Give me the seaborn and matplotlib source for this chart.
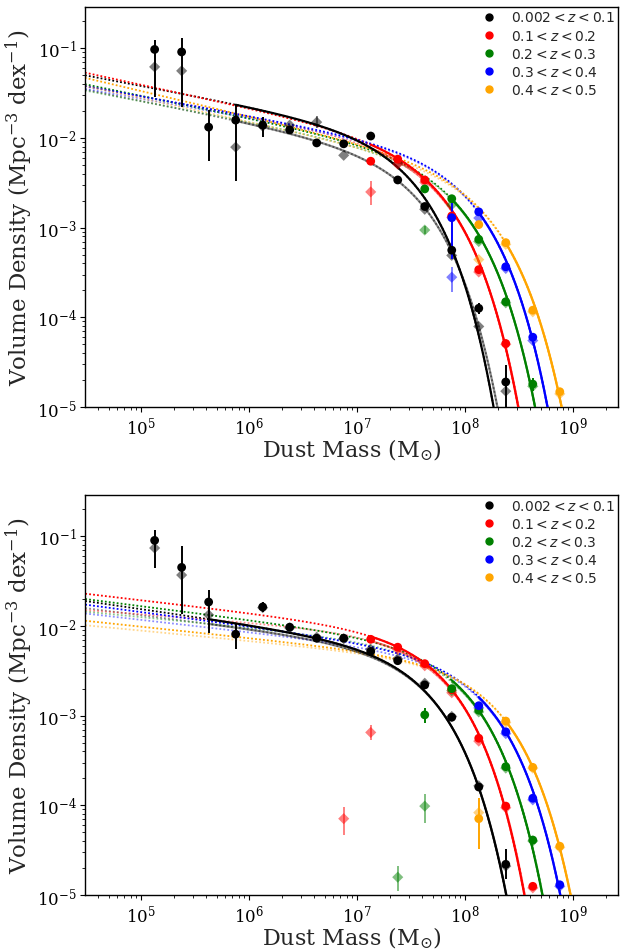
import numpy as np
import matplotlib
matplotlib.use("Agg")
import matplotlib.pyplot as plt
from matplotlib.lines import Line2D
from matplotlib.font_manager import FontProperties
import seaborn as sns

nan = np.nan

# ---------------- data ----------------
BIN_LABELS = [r"$0.002 < z < 0.1$", r"$0.1 < z < 0.2$", r"$0.2 < z < 0.3$",
              r"$0.3 < z < 0.4$", r"$0.4 < z < 0.5$"]
BIN_COLORS = ["black", "red", "green", "blue", "orange"]
LOGM = [5.125, 5.375, 5.625, 5.875, 6.125, 6.375, 6.625, 6.875,
        7.125, 7.375, 7.625, 7.875, 8.125, 8.375, 8.625, 8.875]

# top panel, circles
top_circ_z1 = [0.097, 0.091, 0.0132, 0.0158, 0.0139, 0.0123, 0.0088, 0.0086, 0.0105, 0.0034, 0.00172, 0.00056, 1.26e-4, 1.9e-5, nan, nan]
top_circ_z2 = [nan, nan, nan, nan, nan, nan, nan, nan, 0.0055, 0.0058, 0.0034, 0.00135, 0.00034, 5.1e-5, nan, nan]
top_circ_z3 = [nan, nan, nan, nan, nan, nan, nan, nan, nan, nan, 0.0027, 0.0021, 0.00074, 1.49e-4, 1.8e-5, nan]
top_circ_z4 = [nan, nan, nan, nan, nan, nan, nan, nan, nan, nan, nan, 0.00129, 0.0015, 3.66e-4, 6.0e-5, nan]
top_circ_z5 = [nan, nan, nan, nan, nan, nan, nan, nan, nan, nan, nan, nan, 0.00108, 6.8e-4, 1.2e-4, 1.48e-5]
# top panel, diamonds
top_diam_z1 = [0.062, 0.056, nan, 0.0079, 0.0135, 0.0139, 0.015, 0.0064, nan, 0.0052, 0.0016, 0.00049, 7.9e-5, 1.5e-5, nan, nan]
top_diam_z2 = [nan, nan, nan, nan, nan, nan, nan, nan, 0.0025, 0.0051, 0.0032, 0.0013, 0.00032, 5.0e-5, nan, nan]
top_diam_z3 = [nan, nan, nan, nan, nan, nan, nan, nan, nan, nan, 0.00094, 0.0018, 0.0007, 1.45e-4, 1.7e-5, nan]
top_diam_z4 = [nan, nan, nan, nan, nan, nan, nan, nan, nan, nan, nan, 2.8e-4, 0.00128, 3.5e-4, 5.5e-5, nan]
top_diam_z5 = [nan, nan, nan, nan, nan, nan, nan, nan, nan, nan, nan, nan, 4.4e-4, 6.5e-4, 1.15e-4, 1.4e-5]

# bottom panel, circles
bot_circ_z1 = [0.09, 0.045, 0.0185, 0.0081, 0.0163, 0.0097, 0.0073, 0.0073, 0.0052, 0.0041, 0.0022, 9.6e-4, 1.6e-4, 2.2e-5, nan, nan]
bot_circ_z2 = [nan, nan, nan, nan, nan, nan, nan, nan, 0.0071, 0.0058, 0.0038, 0.00195, 5.6e-4, 9.8e-5, 1.25e-5, nan]
bot_circ_z3 = [nan, nan, nan, nan, nan, nan, nan, nan, nan, nan, 0.00102, 0.0020, 0.00115, 2.7e-4, 4.1e-5, nan]
bot_circ_z4 = [nan, nan, nan, nan, nan, nan, nan, nan, nan, nan, nan, nan, 0.00129, 6.6e-4, 1.2e-4, 1.3e-5]
bot_circ_z5 = [nan, nan, nan, nan, nan, nan, nan, nan, nan, nan, nan, nan, 7.1e-5, 8.7e-4, 2.65e-4, 3.5e-5]
# bottom panel, diamonds
bot_diam_z1 = [0.074, 0.037, 0.0133, nan, 0.016, 0.0095, 0.0075, 0.0072, 0.0055, 0.0043, 0.0023, 9.8e-4, 1.65e-4, 2.1e-5, nan, nan]
bot_diam_z2 = [nan, nan, nan, nan, nan, nan, nan, 7.1e-5, 6.5e-4, 0.0055, 0.0036, 0.0018, 5.2e-4, 9.4e-5, 1.2e-5, nan]
bot_diam_z3 = [nan, nan, nan, nan, nan, nan, nan, nan, nan, 1.58e-5, 9.8e-5, 0.0019, 0.0011, 2.6e-4, 4.0e-5, nan]
bot_diam_z4 = [nan, nan, nan, nan, nan, nan, nan, nan, nan, nan, nan, nan, 0.00122, 6.3e-4, 1.15e-4, 1.25e-5]
bot_diam_z5 = [nan, nan, nan, nan, nan, nan, nan, nan, nan, nan, nan, nan, 8.3e-5, 8.4e-4, 2.6e-4, 3.4e-5]

# visible error bars: (bin, kind, logM, lower, upper)
top_errbars = [
    (0, "c", 5.125, 0.0286, 0.125), (0, "c", 5.375, 0.022, 0.13),
    (0, "c", 5.625, 0.0056, 0.0205), (0, "c", 5.875, 0.0033, 0.0233),
    (0, "c", 6.125, 0.0103, 0.0171), (0, "c", 6.375, 0.0112, 0.0135),
    (0, "c", 6.625, 0.0082, 0.0094), (0, "c", 7.875, 0.00048, 0.00065),
    (0, "c", 8.125, 1.1e-4, 1.45e-4), (0, "c", 8.375, 1.0e-5, 2.95e-5),
    (0, "d", 6.625, 0.013, 0.0175), (1, "d", 7.125, 0.0018, 0.0033),
    (3, "c", 7.875, 0.00045, 0.00214), (3, "d", 7.875, 1.9e-4, 3.6e-4),
    (2, "d", 7.625, 0.00085, 0.00104), (2, "c", 8.625, 1.5e-5, 2.1e-5),
]
bot_errbars = [
    (0, "c", 5.125, 0.044, 0.119), (0, "c", 5.375, 0.0135, 0.077),
    (0, "c", 5.625, 0.0083, 0.025), (0, "c", 5.875, 0.0055, 0.0107),
    (0, "c", 6.125, 0.0143, 0.0185), (0, "c", 8.375, 1.5e-5, 3.3e-5),
    (1, "d", 6.875, 4.7e-5, 9.5e-5), (1, "d", 7.125, 5.3e-4, 7.8e-4),
    (2, "c", 7.625, 8.3e-4, 1.22e-3), (2, "d", 7.375, 1.1e-5, 2.1e-5),
    (2, "d", 7.625, 6.3e-5, 1.33e-4), (4, "c", 8.125, 3.3e-5, 1.2e-4),
]

# Schechter fit parameters per bin: log normalisation, slope (alpha+1), log M*, start of fitted range
top_fit_logA = [-1.977, -2.108, -2.246, -2.190, -2.370]
top_fit_slope = [-0.228, -0.260, -0.249, -0.220, -0.284]
top_fit_logMs = [7.447, 7.699, 7.875, 7.978, 8.146]
top_lfit_logA = [-2.201, -2.126, -2.255, -2.196, -2.381]
top_lfit_slope = [-0.244, -0.219, -0.231, -0.213, -0.262]
top_lfit_logMs = [7.519, 7.699, 7.875, 7.978, 8.146]
top_fit_start = [5.875, 7.125, 7.875, 8.125, 8.375]

bot_fit_logA = [-2.264, -2.099, -2.230, -2.346, -2.416]
bot_fit_slope = [-0.174, -0.141, -0.154, -0.161, -0.127]
bot_fit_logMs = [7.602, 7.740, 7.929, 8.114, 8.217]
bot_lfit_logA = [-2.271, -2.118, -2.246, -2.358, -2.421]
bot_lfit_slope = [-0.151, -0.091, -0.118, -0.137, -0.115]
bot_lfit_logMs = [7.602, 7.740, 7.929, 8.114, 8.217]
bot_fit_start = [5.625, 7.125, 7.875, 8.125, 8.375]

XLIM = (10 ** 4.48, 10 ** 9.415)
YLIM = (1e-5, 10 ** -0.54)

# ---------------- style ----------------
sns.set_theme(style="ticks")
plt.rcParams.update({
    "font.family": ["DejaVu Serif"],
    "mathtext.fontset": "dejavuserif",
    "xtick.major.size": 3.5, "ytick.major.size": 3.5,
    "xtick.minor.size": 2.0, "ytick.minor.size": 2.0,
    "xtick.major.width": 0.8, "ytick.major.width": 0.8,
    "xtick.minor.width": 0.6, "ytick.minor.width": 0.6,
    "xtick.major.pad": 2.5, "ytick.major.pad": 2.5,
    "axes.linewidth": 1.0,
    "axes.edgecolor": "black",
    "xtick.color": "black", "ytick.color": "black",
    "xtick.labelsize": 12, "ytick.labelsize": 12,
})

fig = plt.figure(figsize=(6.2, 9.53), dpi=100)
ax_top = fig.add_axes([0.137, 0.5719, 0.860, 0.4197])
ax_bot = fig.add_axes([0.137, 0.0598, 0.860, 0.4197])


def schechter(logm, logA, slope, logMs):
    return 10 ** (logA + slope * (logm - logMs) - np.log10(np.e) * 10 ** (logm - logMs))


def draw_panel(ax, circs, diams, errbars, fits, lfits, starts):
    ax.set_xscale("log")
    ax.set_yscale("log")
    grid_full = np.linspace(4.3, 9.6, 500)
    # dotted extrapolations
    for i, col in enumerate(BIN_COLORS):
        for (pars, alpha) in ((lfits, 0.45), (fits, 1.0)):
            lg = grid_full
            sns.lineplot(x=10 ** lg, y=schechter(lg, pars[0][i], pars[1][i], pars[2][i]),
                         ax=ax, color=col, alpha=alpha, linestyle=(0, (1, 1.2)), linewidth=1.3,
                         zorder=2, sort=False, estimator=None)
    # solid fitted ranges
    for i, col in enumerate(BIN_COLORS):
        lg = np.linspace(starts[i], 9.6, 400)
        sns.lineplot(x=10 ** lg, y=schechter(lg, lfits[0][i], lfits[1][i], lfits[2][i]),
                     ax=ax, color=col, alpha=0.45, linewidth=1.6, zorder=3, sort=False, estimator=None)
        sns.lineplot(x=10 ** lg, y=schechter(lg, fits[0][i], fits[1][i], fits[2][i]),
                     ax=ax, color=col, alpha=1.0, linewidth=1.6, zorder=3.5, sort=False, estimator=None)
    # error bars
    for (b, kind, lm, lo, hi) in errbars:
        vals = circs[b] if kind == "c" else diams[b]
        y = vals[LOGM.index(lm)]
        ax.errorbar([10 ** lm], [y], yerr=[[y - lo], [hi - y]], fmt="none",
                    ecolor=BIN_COLORS[b], elinewidth=1.4, capsize=0,
                    alpha=1.0 if kind == "c" else 0.5, zorder=4 if kind == "d" else 5)
    # markers
    m = 10 ** np.array(LOGM)
    for i, col in enumerate(BIN_COLORS):
        sns.scatterplot(x=m, y=np.array(diams[i]), ax=ax, color=col, marker="D", s=32,
                        alpha=0.5, edgecolor="none", linewidth=0, zorder=4.5)
        sns.scatterplot(x=m, y=np.array(circs[i]), ax=ax, color=col, marker="o", s=40,
                        alpha=1.0, edgecolor="none", linewidth=0, zorder=6)
    ax.set_xlim(*XLIM)
    ax.set_ylim(*YLIM)
    ax.set_xlabel(r"Dust Mass (M$_{\odot}$)", fontsize=16, labelpad=0)
    ax.set_ylabel(r"Volume Density (Mpc$^{-3}$ dex$^{-1}$)", fontsize=16.5, labelpad=1)
    handles = [Line2D([], [], marker="o", linestyle="", color=c, markersize=5) for c in BIN_COLORS]
    prop = FontProperties(family="DejaVu Sans", size=10, math_fontfamily="dejavusans")
    ax.legend(handles, BIN_LABELS, loc="upper right", frameon=False, prop=prop,
              handletextpad=1.0, labelspacing=0.3, borderaxespad=0.0, borderpad=0.25,
              handlelength=1.2)
    for sp in ax.spines.values():
        sp.set_visible(True)


draw_panel(ax_top,
           [top_circ_z1, top_circ_z2, top_circ_z3, top_circ_z4, top_circ_z5],
           [top_diam_z1, top_diam_z2, top_diam_z3, top_diam_z4, top_diam_z5],
           top_errbars,
           (top_fit_logA, top_fit_slope, top_fit_logMs),
           (top_lfit_logA, top_lfit_slope, top_lfit_logMs),
           top_fit_start)
draw_panel(ax_bot,
           [bot_circ_z1, bot_circ_z2, bot_circ_z3, bot_circ_z4, bot_circ_z5],
           [bot_diam_z1, bot_diam_z2, bot_diam_z3, bot_diam_z4, bot_diam_z5],
           bot_errbars,
           (bot_fit_logA, bot_fit_slope, bot_fit_logMs),
           (bot_lfit_logA, bot_lfit_slope, bot_lfit_logMs),
           bot_fit_start)

fig.savefig("out.png", dpi=100)
